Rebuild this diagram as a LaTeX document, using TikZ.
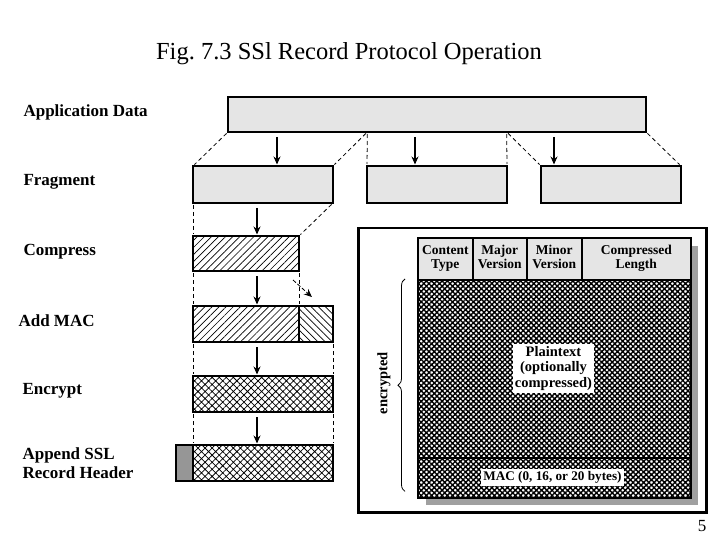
\documentclass[tikz,border=0pt]{standalone}
\usepackage{fontspec}
\setmainfont{Liberation Serif}
\usetikzlibrary{arrows.meta, positioning, calc, patterns.meta, decorations.pathreplacing}

\definecolor{boxgray}{RGB}{229,229,229}
\definecolor{shadowgray}{RGB}{160,160,160}
\definecolor{hdrgray}{RGB}{150,150,150}

\newcommand\twoline[2]{#1\strut\\#2\strut}

\begin{document}
\frenchspacing
\begin{tikzpicture}[
    x=1pt, y=-1pt,
    stage/.style={
        anchor=west,
        font=\fontsize{17}{19}\selectfont\bfseries
    },
    block/.style={
        draw,
        line width=2.8pt,
        anchor=north west,
        inner sep=0pt,
        outer sep=0pt
    },
    plainbox/.style={block, fill=boxgray},
    zipbox/.style={block, pattern={Lines[angle=45, distance=5pt, line width=0.7pt]}},
    macbox/.style={block, pattern={Lines[angle=-45, distance=5pt, line width=0.7pt]}},
    cryptbox/.style={block, pattern={Hatch[angle=45, distance=5pt, line width=0.75pt]}},
    field/.style={
        draw,
        line width=1.6pt,
        fill=boxgray,
        anchor=north west,
        minimum height=42pt,
        inner sep=0pt,
        align=center,
        font=\fontsize{13.5}{14.5}\selectfont\bfseries
    },
    guide/.style={dashed, line width=0.8pt, dash pattern=on 4pt off 3pt, shorten <=2pt, shorten >=2pt},
    arrow/.style={-{Stealth[length=8pt, width=7pt]}, line width=1.2pt, shorten <=5pt, shorten >=1.5pt}
]
\useasboundingbox (0,0) rectangle (720,540);

% --- Title
\node[font=\fontsize{24.5}{26}\selectfont] (title) at (349,54) {Fig. 7.3 SSl Record Protocol Operation};

% --- Stage labels
\node[stage] (lapp) at (20,112) {Application Data};
\node[stage] (lfrag) at (20,182) {Fragment};
\node[stage] (lcomp) at (20,252) {Compress};
\node[stage] (lmac) at (15,321) {Add MAC};
\node[stage, align=left] (lenc) at (19,391) {Encrypt};
\node[stage, align=left] (lhdr) at (19,463) {Append SSL\\Record Header};

% --- Data blocks
\node[plainbox, minimum width=418pt, minimum height=35pt] (app) at (228,97) {};
\node[plainbox, minimum width=140pt, minimum height=37pt] (frag1) at (193,166) {};
\node[plainbox, minimum width=140pt, minimum height=37pt] (frag2) at (367,166) {};
\node[plainbox, minimum width=140pt, minimum height=37pt] (frag3) at (541,166) {};
\node[zipbox, minimum width=106pt, minimum height=35pt] (comp) at (193,236) {};
\node[zipbox, minimum width=106pt, minimum height=36pt] (macL) at (193,306) {};
\node[macbox, minimum width=34pt, minimum height=36pt] (macR) at (299,306) {};
\node[cryptbox, minimum width=140pt, minimum height=36pt] (enc) at (193,376) {};
\node[block, fill=hdrgray, minimum width=17pt, minimum height=36pt] (hdr) at (176,445) {};
\node[cryptbox, minimum width=140pt, minimum height=36pt] (rec) at (193,445) {};

\coordinate (cut1) at ($(app.south west)!1/3!(app.south east)$);
\coordinate (cut2) at ($(app.south west)!2/3!(app.south east)$);

% --- Dashed guides
\draw[guide] (app.south west) -- (frag1.north west);
\draw[guide] (cut1) -- (frag1.north east);
\draw[guide] (cut1) -- (frag2.north west);
\draw[guide] (cut2) -- (frag2.north east);
\draw[guide] (cut2) -- (frag3.north west);
\draw[guide] (app.south east) -- (frag3.north east);
\draw[guide] (frag1.south west) -- (comp.north west);
\draw[guide] (frag1.south east) -- (comp.north east);
\draw[guide] (comp.south west) -- (macL.north west);
\draw[guide] (comp.south east) -- (macL.north east);
\draw[guide] (macL.south west) -- (enc.north west);
\draw[guide] (macR.south east) -- (enc.north east);
\draw[guide] (enc.south west) -- (rec.north west);
\draw[guide] (enc.south east) -- (rec.north east);

% --- Arrows
\draw[arrow] ([xshift=14pt]frag1.north |- app.south) -- ([xshift=14pt]frag1.north);
\draw[arrow] ([xshift=-22pt]frag2.north |- app.south) -- ([xshift=-22pt]frag2.north);
\draw[arrow] ([xshift=-57pt]frag3.north |- app.south) -- ([xshift=-57pt]frag3.north);
\draw[arrow] ([xshift=-6pt]frag1.south) -- ([xshift=-6pt]frag1.south |- comp.north);
\draw[arrow] ([xshift=-6pt]frag1.south |- comp.south) -- ([xshift=-6pt]frag1.south |- macL.north);
\draw[arrow] ([xshift=-6pt]frag1.south |- macL.south) -- ([xshift=-6pt]enc.north);
\draw[arrow] ([xshift=-6pt]enc.south) -- ([xshift=-6pt]rec.north);
\draw[arrow, line width=0.8pt, dash pattern=on 4pt off 2pt, shorten <=0pt] ([shift={(-6,9)}]comp.south east) -- ([shift={(14,27)}]comp.south east);

% --- Record format panel
\node[draw, line width=2.5pt, anchor=north west, minimum width=348pt, minimum height=284pt, inner sep=0pt] (panel) at (357,227) {};
\fill[shadowgray] (426,246) rectangle (698,505);
\node[field, minimum width=55pt] (ctype) at (417,237) {\twoline{Content}{Type}};
\node[field, minimum width=54pt] (major) at (472,237) {\twoline{Major}{Version}};
\node[field, minimum width=55pt] (minor) at (526,237) {\twoline{Minor}{Version}};
\node[field, minimum width=109pt] (length) at (581,237) {\twoline{Compressed}{Length}};
\node[draw, line width=1.6pt, anchor=north west, minimum width=273pt, minimum height=218pt, inner sep=0pt,
      preaction={fill=white}, pattern={Hatch[angle=45, distance=3.7pt, line width=1.4pt]}] (body) at (417,279) {};
\draw[line width=2pt] ([yshift=40pt]body.south west) -- ([yshift=40pt]body.south east);

\node[fill=white, inner sep=2pt, align=center, font=\fontsize{14.5}{15.5}\selectfont\bfseries] (plain) at (553.5,368.5) {Plaintext\\(optionally\\compressed)};
\node[fill=white, inner sep=2pt, font=\fontsize{13.2}{15}\selectfont\bfseries] (mac) at (552.5,477.5) {MAC (0, 16, or 20 bytes)};

% --- Encrypted span
\draw[line width=0.8pt, decorate, decoration={brace, amplitude=7pt}] ([xshift=-12pt, yshift=7pt]body.south west) -- ([xshift=-12pt]body.north west);
\node[rotate=90, font=\fontsize{14.5}{17}\selectfont\bfseries] (encl) at (384,383) {encrypted};

% --- Page number
\node[font=\fontsize{17}{19}\selectfont] (page) at (702,526) {5};

\end{tikzpicture}
\end{document}
